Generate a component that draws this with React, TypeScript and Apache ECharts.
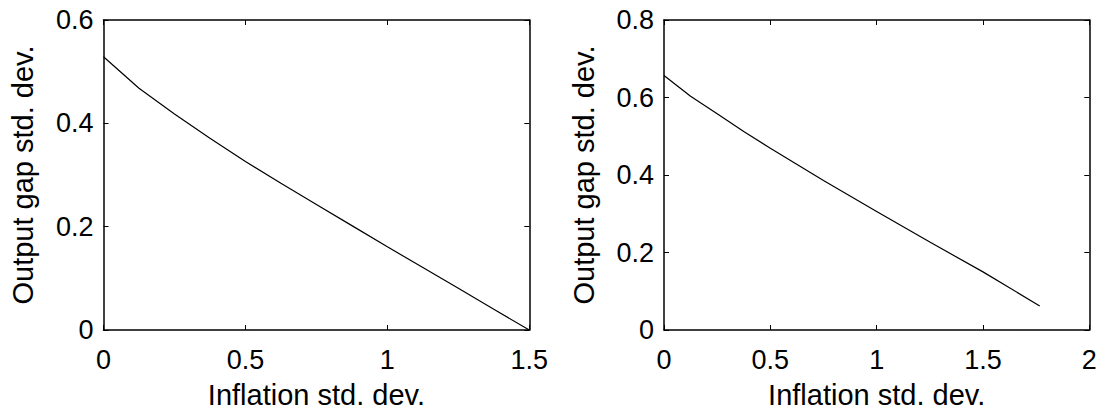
import React, { useEffect, useRef } from "react";
import * as echarts from "echarts";

const leftX = [0, 0.125, 0.25, 0.375, 0.5, 0.625, 0.75, 0.875, 1, 1.125, 1.25, 1.375, 1.5];
const leftY = [0.529, 0.468, 0.418, 0.371, 0.326, 0.284, 0.243, 0.202, 0.161, 0.121, 0.081, 0.04, 0];
const rightX = [0, 0.125, 0.25, 0.375, 0.5, 0.75, 1.0, 1.25, 1.5, 1.767];
const rightY = [0.657, 0.603, 0.558, 0.512, 0.469, 0.386, 0.306, 0.227, 0.15, 0.062];

const xTitle = "Inflation std. dev.";
const yTitle = "Output gap std. dev.";

const FONT = "'Liberation Sans', Arial, Helvetica, sans-serif";

export default function App() {
  const ref = useRef<HTMLDivElement>(null);
  useEffect(() => {
    if (!ref.current) return;
    const chart = echarts.init(ref.current, undefined, { renderer: "svg" });
    const axisLine = { show: true, onZero: false, lineStyle: { color: "#000", width: 1.5 } };
    const tick = { show: true, inside: true, length: 5, lineStyle: { color: "#000", width: 1 } };
    const lbl = { color: "#000", fontSize: 27, fontFamily: FONT };
    const xAxes: any[] = [];
    const yAxes: any[] = [];
    const cfg = [
      { xmax: 1.5, ymax: 0.6 },
      { xmax: 2, ymax: 0.8 },
    ];
    cfg.forEach((c, i) => {
      xAxes.push({
        type: "value", gridIndex: i, position: "bottom", min: 0, max: c.xmax, interval: 0.5,
        axisLine, axisTick: tick, splitLine: { show: false },
        axisLabel: { ...lbl, margin: 16, formatter: (v: number) => String(v) },
        name: xTitle, nameLocation: "middle", nameGap: 50,
        nameTextStyle: { color: "#000", fontSize: 29, fontFamily: FONT },
      });
      xAxes.push({
        type: "value", gridIndex: i, position: "top", min: 0, max: c.xmax, interval: 0.5,
        axisLine, axisTick: tick, splitLine: { show: false }, axisLabel: { show: false },
      });
      yAxes.push({
        type: "value", gridIndex: i, position: "left", min: 0, max: c.ymax, interval: 0.2,
        axisLine, axisTick: tick, splitLine: { show: false },
        axisLabel: { ...lbl, margin: 10, formatter: (v: number) => String(Math.round(v * 10) / 10) },
        name: yTitle, nameLocation: "middle", nameGap: 66,
        nameTextStyle: { color: "#000", fontSize: 29, fontFamily: FONT },
      });
      yAxes.push({
        type: "value", gridIndex: i, position: "right", min: 0, max: c.ymax, interval: 0.2,
        axisLine, axisTick: tick, splitLine: { show: false }, axisLabel: { show: false },
      });
    });
    chart.setOption({
      animation: false,
      backgroundColor: "#fff",
      grid: [
        { left: 103.5, top: 20, width: 425.8, height: 314 },
        { left: 664, top: 20, width: 425.3, height: 314 },
      ],
      xAxis: xAxes,
      yAxis: yAxes,
      series: [
        {
          type: "line", xAxisIndex: 0, yAxisIndex: 0, showSymbol: false,
          lineStyle: { color: "#000", width: 1.2 },
          data: leftX.map((x, i) => [x, leftY[i]]),
        },
        {
          type: "line", xAxisIndex: 2, yAxisIndex: 2, showSymbol: false,
          lineStyle: { color: "#000", width: 1.2 },
          data: rightX.map((x, i) => [x, rightY[i]]),
        },
      ],
    });
    return () => chart.dispose();
  }, []);
  return (
    <div
      ref={ref}
      style={{ position: "fixed", left: 0, top: 0, width: 1105, height: 414, background: "#fff" }}
    />
  );
}
